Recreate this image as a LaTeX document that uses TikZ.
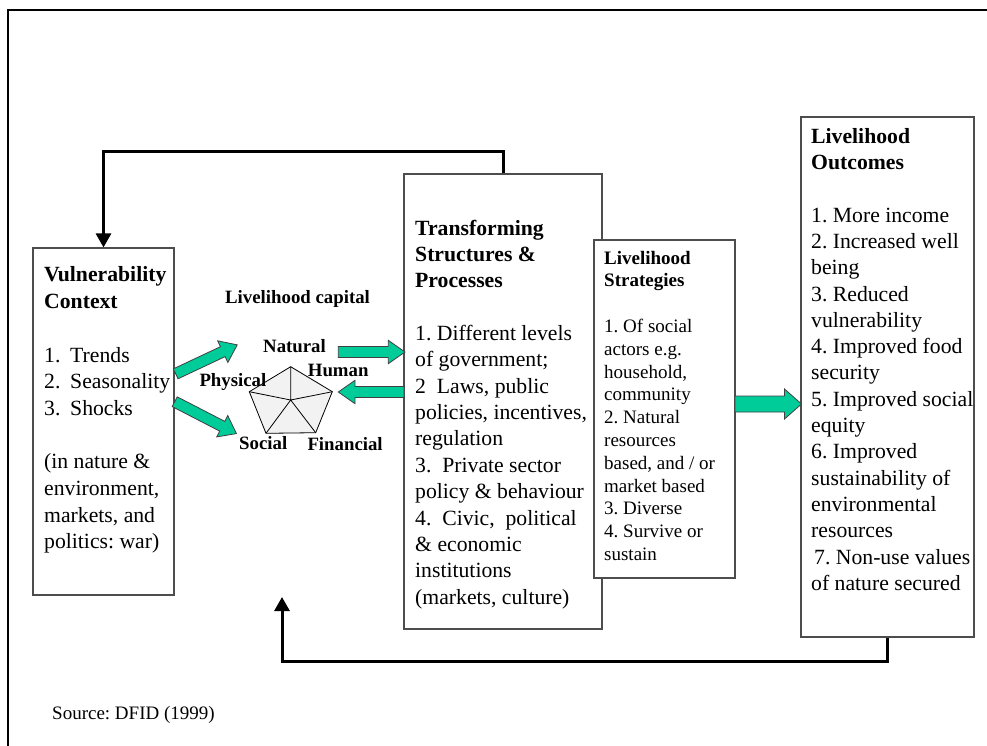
\documentclass[tikz,border=0pt]{standalone}
\usepackage{fontspec}
\setmainfont{Liberation Serif}
\usetikzlibrary{arrows.meta}
\definecolor{grn}{HTML}{00CC99}
\definecolor{boxgray}{HTML}{4D4D4D}
\definecolor{pentfill}{HTML}{F2F2F2}
\frenchspacing
\newcommand\grnarrow[7]{%
  \draw[greenarr, shift={(#1,#2)}, rotate=#3]
    (0,-#5) -- ({#4-#7},-#5) -- ({#4-#7},-#6) -- (#4,0) -- ({#4-#7},#6) -- ({#4-#7},#5) -- (0,#5) -- cycle;}
\begin{document}
\begin{tikzpicture}[x=1pt,y=-1pt,
  box/.style={draw=boxgray, line width=1.2pt, fill=white, inner sep=0pt},
  txt/.style={inner sep=0pt, anchor=north west, align=left},
  lbl/.style={inner sep=0pt, anchor=base west, font=\fontsize{18.8}{22}\selectfont\bfseries},
  greenarr/.style={fill=grn, draw=black!75, line width=0.8pt, line join=miter},
  fb/.style={line width=3pt, -{Triangle[width=15pt,length=14pt]}},
  pent/.style={fill=pentfill, draw=black, line width=0.8pt},
  spoke/.style={draw=black, line width=0.8pt}]
\useasboundingbox (0,0) rectangle (987,745);
\fill[white] (0,0) rectangle (987,745);
% outer frame
\draw[line width=2pt] (990,10) -- (8,10) -- (8,748);

% boxes
\node[box, minimum width=141pt, minimum height=347pt] (vuln) at (103.5,421.5) {};
\node[box, minimum width=198pt, minimum height=455pt] (trans) at (503,401.5) {};
\node[box, minimum width=141pt, minimum height=338pt] (strat) at (664.5,409) {};
\node[box, minimum width=173pt, minimum height=520pt] (outc) at (887.5,377) {};

% feedback connectors
\coordinate (topbar) at (0,151);
\coordinate (botbar) at (0,661);
\coordinate (fbtip) at (282,597);
\draw[fb] (trans.north) -- (trans.north |- topbar) -| (vuln.north);
\draw[fb] (outc.south) -- (outc.south |- botbar) -| (fbtip);

% green block arrows
\grnarrow{175.7}{373.8}{25.2}{68}{5.5}{12}{16}
\grnarrow{174.7}{401.7}{-27.3}{69.5}{5.5}{12}{16}
\grnarrow{338.3}{352}{0}{66.7}{5.5}{11.7}{16.7}
\grnarrow{404}{392}{180}{65.7}{5.5}{11.7}{16.7}
\grnarrow{735}{404}{0}{66.5}{8}{15}{17}

% pentagon
\coordinate (pc) at (290.7,400);
\filldraw[pent] (290.7,366.7) coordinate (p1) -- (332.3,391.7) coordinate (p2)
  -- (315.7,432.7) coordinate (p3) -- (266,433.3) coordinate (p4)
  -- (249.3,391.7) coordinate (p5) -- cycle;
\draw[spoke] (pc) -- (p1) (pc) -- (p2) (pc) -- (p3) (pc) -- (p4) (pc) -- (p5);

% labels
\node[lbl] (capital) at (225,303) {Livelihood capital};
\node[lbl] (natural) at (263,352) {Natural};
\node[lbl] (human) at (307.7,376) {Human};
\node[lbl] (physical) at (199.3,386) {Physical};
\node[lbl] (social) at (239,449.3) {Social};
\node[lbl] (financial) at (307.3,450.7) {Financial};

% box texts
\node[txt, font=\fontsize{21.7}{26.7}\selectfont] (vulnT) at (44,263.0)
 {\strut\textbf{Vulnerability}\\\textbf{Context}\\\strut\\
  \makebox[26pt][l]{1.}Trends\\\makebox[26pt][l]{2.}Seasonality\\\makebox[26pt][l]{3.}Shocks\\\strut\\
  (in nature \&\\environment,\\markets, and\\politics: war)};

\node[txt, font=\fontsize{21.7}{26.35}\selectfont] (transT) at (415,216.5)
 {\strut\textbf{Transforming}\\\textbf{Structures \&}\\\textbf{Processes}\\\strut\\
  1. Different levels\\of government;\\2\ \ Laws, public\\policies, incentives,\\regulation\\
  3.\ \ Private sector\\policy \& behaviour\\4.\ \ Civic,\ \ political\\\& economic\\
  institutions\\(markets, culture)};

\node[txt, font=\fontsize{19}{22.8}\selectfont] (stratT) at (604,248)
 {\strut\textbf{Livelihood}\\\textbf{Strategies}\\\strut\\
  1. Of social\\actors e.g.\\household,\\community\\2. Natural\\resources\\
  based, and / or\\market based\\3. Diverse\\4. Survive or\\sustain};

\node[txt, font=\fontsize{21.7}{26.3}\selectfont] (outcT) at (811,124.6)
 {\strut\textbf{Livelihood}\\\textbf{Outcomes}\\\strut\\
  1. More income\\2. Increased well\\being\\3. Reduced\\vulnerability\\
  4. Improved food\\security\\5. Improved social\\equity\\6. Improved\\
  sustainability of\\environmental\\resources\\\hspace*{3pt}7. Non-use values\\of nature secured};

\node[inner sep=0pt, anchor=base west, font=\fontsize{19}{22}\selectfont] (source) at (52,719) {Source: DFID (1999)};
\end{tikzpicture}
\end{document}
